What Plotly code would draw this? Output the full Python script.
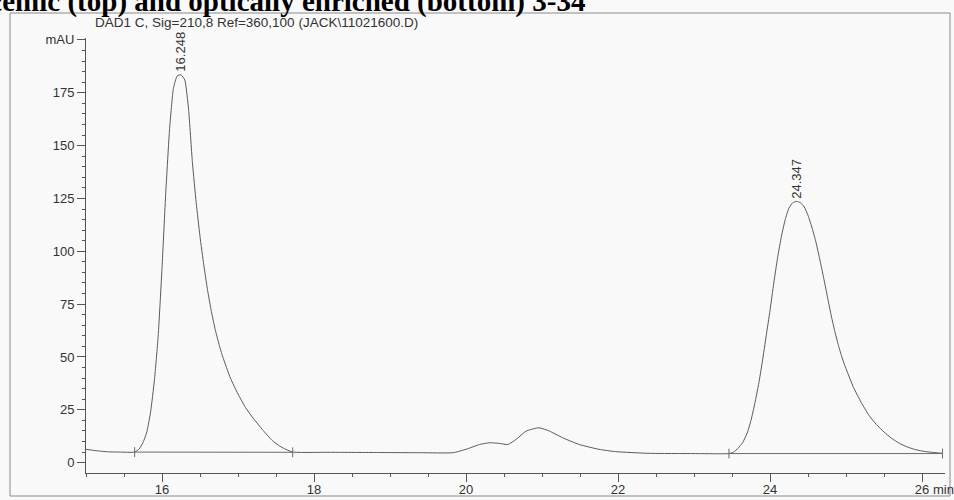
import plotly.graph_objects as go

# ---- data (time in min, signal in mAU) ----
time_min = [15.00, 15.10, 15.20, 15.30, 15.45, 15.64, 15.70, 15.75, 15.80, 15.85,
            15.90, 15.95, 16.00, 16.05, 16.10, 16.15, 16.20, 16.25, 16.30, 16.35,
            16.40, 16.45, 16.50, 16.55, 16.60, 16.65, 16.70, 16.75, 16.80, 16.90,
            17.00, 17.10, 17.20, 17.32, 17.45, 17.55, 17.63, 17.72, 18.20, 18.80,
            19.40, 19.83, 20.00, 20.18, 20.31, 20.44, 20.55, 20.66, 20.79, 20.96,
            21.10, 21.27, 21.49, 21.75, 21.97, 22.41, 23.00, 23.46, 23.52, 23.58,
            23.64, 23.70, 23.75, 23.80, 23.85, 23.90, 23.95, 24.00, 24.05, 24.10,
            24.15, 24.20, 24.25, 24.30, 24.35, 24.40, 24.45, 24.50, 24.55, 24.60,
            24.65, 24.70, 24.75, 24.80, 24.85, 24.90, 24.95, 25.00, 25.10, 25.20,
            25.30, 25.40, 25.50, 25.60, 25.70, 25.80, 25.90, 26.00, 26.10, 26.27]
signal_mau = [6.3, 5.8, 5.4, 5.1, 5.0, 5.0, 6.5, 9.5, 14.5, 24.0,
              39.0, 60.0, 92.0, 128.0, 158.0, 177.0, 183.0, 183.5, 181.0, 167.0,
              142.0, 123.0, 107.0, 93.5, 81.5, 71.5, 63.0, 56.0, 50.0, 40.0,
              32.5, 26.0, 21.0, 15.7, 10.5, 7.8, 6.3, 5.0, 4.9, 4.8,
              4.7, 4.7, 6.3, 8.6, 9.4, 9.1, 8.6, 11.0, 14.9, 16.5,
              14.9, 11.8, 8.6, 6.3, 5.2, 4.4, 4.3, 4.3, 5.0, 6.8,
              9.5, 14.0, 20.0, 28.0, 37.0, 48.0, 60.0, 72.0, 85.0, 97.0,
              107.0, 115.0, 120.5, 123.0, 123.6, 123.0, 121.0, 117.0, 111.5, 105.0,
              97.0, 88.5, 79.5, 70.5, 62.5, 55.5, 49.5, 44.5, 35.5, 28.5,
              22.5, 18.0, 14.5, 11.5, 9.2, 7.5, 6.3, 5.5, 5.0, 4.4]

peak_rt = [16.248, 24.347]
peak_height = [183.5, 123.6]
peak_labels = ["16.248", "24.347"]

base_start_t = [15.64, 23.46]
base_start_v = [5.0, 4.3]
base_end_t = [17.72, 26.27]
base_end_v = [4.9, 4.3]

x_tick_vals = [16, 18, 20, 22, 24, 26]
x_tick_text = ["16", "18", "20", "22", "24", "26"]
y_tick_vals = [0, 25, 50, 75, 100, 125, 150, 175, 200]
y_tick_text = ["0", "25", "50", "75", "100", "125", "150", "175", "mAU"]

signal_title = "DAD1 C, Sig=210,8 Ref=360,100 (JACK\\11021600.D)"
page_title = "racemic (top) and optically enriched (bottom) 3-34"

# ---- layout geometry (pixels) ----
W, H = 954, 500
ML, MR, MT, MB = 86, 9, 38, 27
PW, PH = W - ML - MR, H - MT - MB


def px(x):
    return (x - ML) / PW


def py(y):
    return (H - MB - y) / PH


LINE = "#555555"
TXT = "#333333"
SANS = "Liberation Sans, Arial"

fig = go.Figure()
fig.add_trace(go.Scatter(x=time_min, y=signal_mau, mode="lines",
                         line=dict(color="#5a5a5a", width=1, shape="spline", smoothing=0.5),
                         hoverinfo="skip", showlegend=False))

# integration baselines with their end ticks
for t0, v0, t1, v1 in zip(base_start_t, base_start_v, base_end_t, base_end_v):
    fig.add_trace(go.Scatter(x=[t0, t1], y=[v0, v1], mode="lines+markers",
                             line=dict(color="#6a6a6a", width=1),
                             marker=dict(symbol="line-ns-open", size=7,
                                         line=dict(color="#6a6a6a", width=1)),
                             hoverinfo="skip", showlegend=False))

for rt, h, lab in zip(peak_rt, peak_height, peak_labels):
    fig.add_annotation(x=rt, y=h, text=lab, textangle=-90, showarrow=False,
                       xanchor="center", yanchor="bottom", yshift=1,
                       font=dict(family=SANS, size=13, color=TXT))

fig.add_annotation(xref="paper", yref="paper", x=px(256), y=py(22), text=signal_title,
                   showarrow=False, xanchor="center", yanchor="middle",
                   font=dict(family=SANS, size=13.5, color=TXT))

fig.add_annotation(xref="paper", yref="paper", x=px(-40), y=py(20), text="<b>" + page_title + "</b>",
                   showarrow=False, xanchor="left", yanchor="bottom",
                   font=dict(family="Liberation Serif, Times New Roman", size=29, color="#000000"))

fig.add_annotation(xref="paper", yref="paper", x=px(931), y=py(489), text="min",
                   showarrow=False, xanchor="left", yanchor="middle",
                   font=dict(family=SANS, size=13, color=TXT))

# outer frame
fig.add_shape(type="rect", xref="paper", yref="paper",
              x0=px(10), x1=px(950), y0=py(496), y1=py(13),
              line=dict(color="#8a8a8a", width=1), fillcolor="rgba(0,0,0,0)", layer="below")

fig.update_xaxes(range=[15.0, 15.0 + PW / 76.0], tickmode="array", tickvals=x_tick_vals,
                 ticktext=x_tick_text, ticks="outside", ticklen=8, tickcolor=LINE,
                 ticklabelstandoff=-4,
                 showline=True, linecolor=LINE, linewidth=1, showgrid=False, zeroline=False,
                 automargin=False,
                 minor=dict(tickmode="linear", tick0=15, dtick=0.5, ticks="outside",
                            ticklen=3, tickcolor=LINE, showgrid=False),
                 tickfont=dict(family=SANS, size=13, color=TXT))
fig.update_yaxes(range=[-4.9, 200.9], tickmode="array", tickvals=y_tick_vals,
                 ticktext=y_tick_text, ticks="outside", ticklen=8, tickcolor=LINE,
                 showline=True, linecolor=LINE, linewidth=1, showgrid=False, zeroline=False,
                 automargin=False,
                 minor=dict(tickmode="linear", tick0=0, dtick=5, ticks="outside",
                            ticklen=3, tickcolor=LINE, showgrid=False),
                 tickfont=dict(family=SANS, size=13, color=TXT))

fig.update_layout(width=W, height=H, margin=dict(l=ML, r=MR, t=MT, b=MB, autoexpand=False),
                  paper_bgcolor="#f9f9f9", plot_bgcolor="#f9f9f9", showlegend=False)

fig.write_html("out.html", config={"displayModeBar": False},
               post_script="document.body.style.margin='0';document.body.style.overflow='hidden';")
